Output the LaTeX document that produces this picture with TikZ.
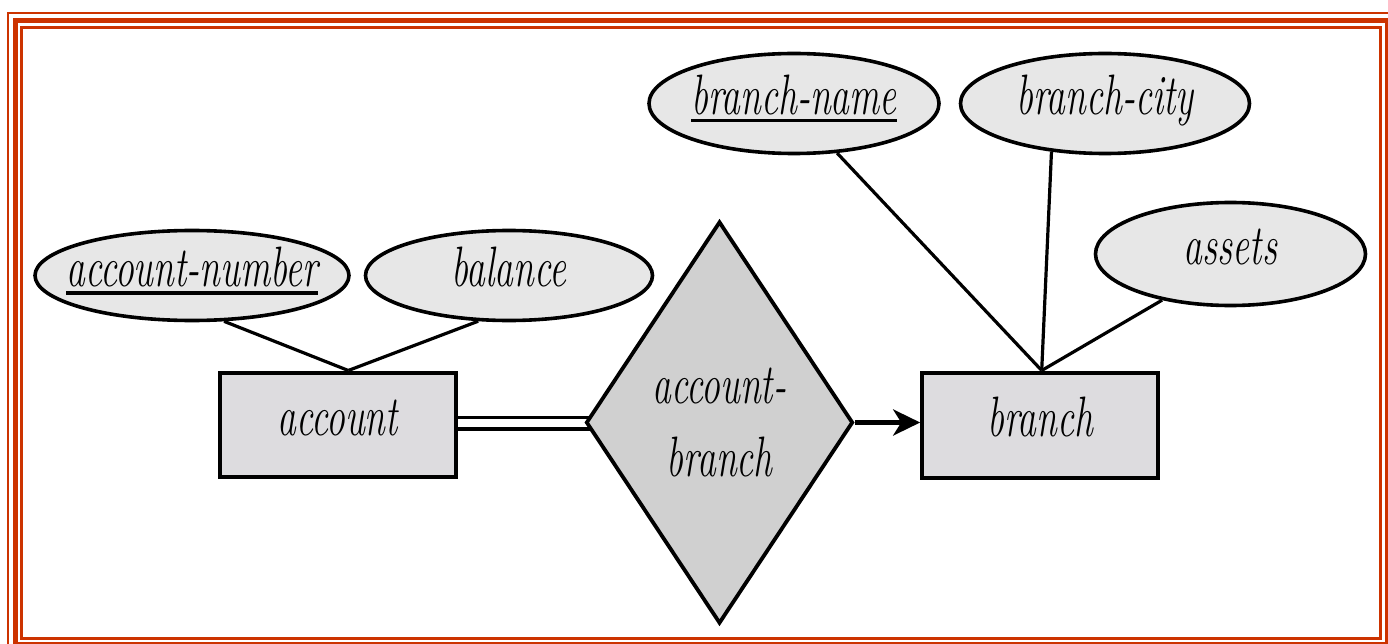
\documentclass[tikz,border=0pt]{standalone}
\usepackage{graphicx}
\usetikzlibrary{shapes.geometric,arrows.meta,backgrounds}
\definecolor{framered}{RGB}{204,51,0}
\definecolor{attrfill}{RGB}{231,231,231}
\definecolor{entfill}{RGB}{221,220,223}
\definecolor{relfill}{RGB}{208,208,208}
\newcommand\erl[1]{\scalebox{0.66}[1]{#1}}
\newcommand\attrtxt[1]{\makebox[0pt]{\erl{#1}}}
\newcommand\keyul[1]{\setbox0=\hbox{#1}\rlap{\rule[-8pt]{\wd0}{3.8pt}}\box0}
\begin{document}
\begin{tikzpicture}[x=1pt,y=-1pt,
  lab/.style={font=\fontsize{57}{73}\selectfont\itshape, inner sep=0pt},
  attr/.style={lab, ellipse, draw, line width=3.6pt, fill=attrfill, text height=32pt, text depth=10pt},
  entity/.style={lab, rectangle, draw, line width=4pt, fill=entfill, text height=32pt, text depth=10pt},
  rel/.style={lab, diamond, draw, line width=3.8pt, fill=relfill, aspect=0.67, align=center},
  conn/.style={line width=3.2pt},
  framebox/.style={draw=framered}]
\useasboundingbox (0,0) rectangle (1388,644);
% attributes
\node[attr, minimum width=314pt, minimum height=90pt] (an) at (192,275.5) {\attrtxt{\keyul{account-number}}};
\node[attr, minimum width=287pt, minimum height=90pt] (bal) at (509,275.5) {\attrtxt{balance}};
\node[attr, minimum width=290pt, minimum height=100pt] (bn) at (794,103.5) {\attrtxt{\keyul{branch-name}}};
\node[attr, minimum width=289pt, minimum height=100pt] (bc) at (1105,103.5) {\attrtxt{branch-city}};
\node[attr, minimum width=270pt, minimum height=103pt] (as) at (1230.5,254) {\attrtxt{assets}};
% entities
\node[entity, minimum width=236pt, minimum height=104pt] (acc) at (337.5,424.5) {\erl{account}};
\node[entity, minimum width=236pt, minimum height=105pt] (br) at (1040.2,425) {\erl{branch}};
% relationship
\node[rel, minimum width=267pt, minimum height=402pt] (dia) at (719.5,422.5) {\erl{account-}\\\erl{branch}};
% connectors and frame
\begin{scope}[on background layer]
\fill[white] (0,0) rectangle (1388,644);
\draw[framebox, line width=2.4pt] (7.7,13) rectangle (1394,650.5);
\draw[framebox, line width=5pt] (15,20.3) rectangle (1387.3,644.6);
\draw[framebox, line width=3pt] (21,27.3) rectangle (1380.6,638.5);
\draw[conn] (an.-55) -- ([xshift=10.8pt]acc.north);
\draw[conn] (bal.-124) -- ([xshift=10.8pt]acc.north);
\draw[conn] (bn.-49) -- ([xshift=1.5pt]br.north);
\draw[conn] (bc.-138) -- ([xshift=1.5pt]br.north);
\draw[conn] (as.-146) -- ([xshift=1.5pt]br.north);
\draw[line width=3pt] ([yshift=5pt]dia.west -| acc.east) -- ([yshift=5pt,xshift=10pt]dia.west);
\draw[line width=4.6pt] ([yshift=-6.5pt]dia.west -| acc.east) -- ([yshift=-6.5pt,xshift=12pt]dia.west);
\draw[line width=4.8pt, -{Stealth[length=27pt,width=26pt,inset=8pt]}] (dia.east) -- (dia.east -| br.west);
\end{scope}
\end{tikzpicture}
\end{document}
